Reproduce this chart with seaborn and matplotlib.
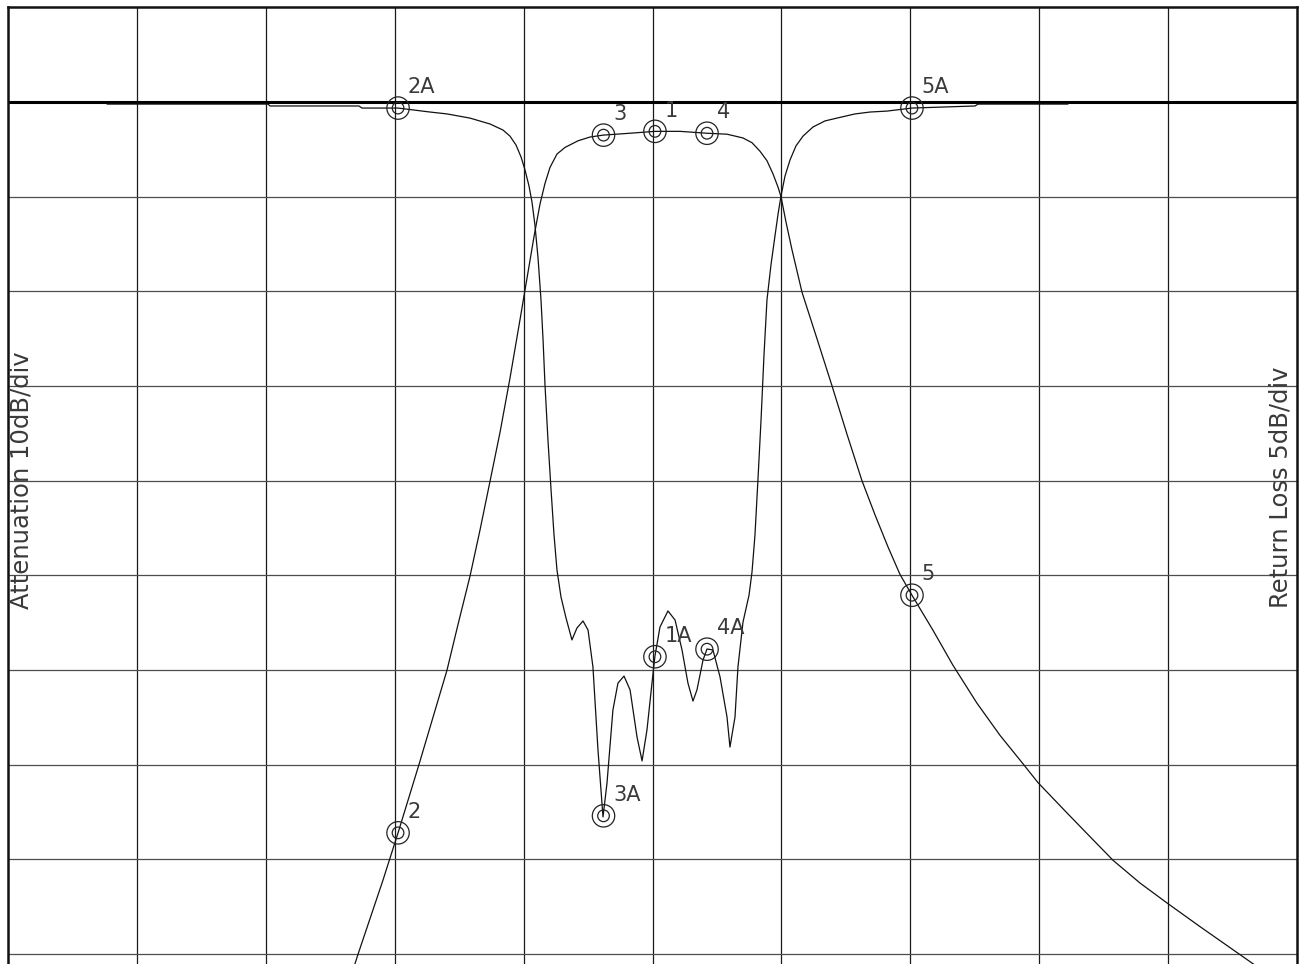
import numpy as np
import matplotlib
matplotlib.use("Agg")
import matplotlib.pyplot as plt
import seaborn as sns

# frequency in grid divisions (10 divisions across), levels in dB
att_freq = [2.664, 2.716, 2.909, 3.026, 3.188, 3.406, 3.491, 3.584, 3.662, 3.739,
            3.817, 3.894, 3.972, 4.034, 4.081, 4.127, 4.166, 4.205, 4.259, 4.321,
            4.422, 4.515, 4.616, 4.825, 5.019, 5.213, 5.423, 5.578, 5.702, 5.772,
            5.834, 5.888, 5.935, 5.974, 5.997, 6.036, 6.082, 6.160, 6.276, 6.393,
            6.509, 6.625, 6.726, 6.827, 6.920, 7.013, 7.176, 7.331, 7.517, 7.696,
            7.874, 7.991, 8.216, 8.394, 8.573, 8.782, 8.991, 9.247, 9.635, 9.729]
att_db = [-92.2, -90.0, -82.2, -77.2, -70.0, -60.0, -55.2, -50.1, -45.2, -40.1,
          -34.9, -29.2, -23.0, -18.0, -14.2, -10.8, -8.6, -6.9, -5.5, -4.8,
          -4.1, -3.7, -3.5, -3.3, -3.1, -3.1, -3.3, -3.4, -3.8, -4.3,
          -5.2, -6.2, -7.6, -9.0, -10.0, -12.7, -15.6, -20.1, -25.0, -30.0,
          -35.1, -40.0, -43.6, -47.0, -49.9, -52.1, -55.8, -59.5, -63.5, -66.9,
          -69.9, -71.9, -75.1, -77.6, -80.1, -82.5, -84.6, -87.1, -90.8, -91.7]

rl_freq = [0.768, 2.017, 2.033, 2.723, 2.746, 3.026, 3.274, 3.406, 3.584, 3.739,
           3.840, 3.894, 3.941, 3.980, 4.011, 4.042, 4.065, 4.088, 4.112, 4.135,
           4.151, 4.166, 4.189, 4.213, 4.236, 4.259, 4.290, 4.329, 4.375, 4.414,
           4.461, 4.500, 4.538, 4.577, 4.616, 4.647, 4.693, 4.732, 4.779, 4.826,
           4.880, 4.919, 4.957, 4.996, 5.019, 5.058, 5.120, 5.175, 5.229, 5.275,
           5.314, 5.345, 5.392, 5.423, 5.469, 5.524, 5.578, 5.601, 5.640, 5.663,
           5.702, 5.749, 5.772, 5.795, 5.818, 5.842, 5.865, 5.888, 5.919, 5.950,
           5.974, 5.997, 6.028, 6.067, 6.113, 6.168, 6.245, 6.338, 6.431, 6.571,
           6.687, 6.819, 7.013, 7.502, 7.526, 8.223]
rl_db = [-0.11, -0.11, -0.21, -0.21, -0.32, -0.32, -0.53, -0.63, -0.85, -1.16,
         -1.48, -1.80, -2.27, -2.90, -3.59, -4.44, -5.28, -6.50, -8.24, -10.46,
         -12.57, -14.95, -17.85, -20.49, -22.87, -24.72, -26.14, -27.25, -28.41, -27.78,
         -27.41, -27.89, -29.84, -34.22, -37.76, -35.97, -32.11, -30.69, -30.32, -31.05,
         -33.54, -34.80, -33.17, -30.69, -29.26, -27.73, -26.88, -27.36, -28.94, -30.69,
         -31.64, -31.05, -29.47, -28.89, -28.94, -30.37, -32.48, -34.07, -32.48, -29.84,
         -27.47, -26.04, -24.82, -22.87, -19.96, -16.80, -13.36, -10.46, -8.61, -7.08,
         -5.92, -4.96, -3.91, -3.06, -2.32, -1.80, -1.32, -1.00, -0.85, -0.63,
         -0.53, -0.48, -0.32, -0.21, -0.11, -0.11]

# markers (same frequencies on both traces)
att_marker_names = ["2", "3", "1", "4", "5"]
att_marker_freq = [3.026, 4.620, 5.019, 5.423, 7.013]
att_marker_db = [-77.2, -3.5, -3.1, -3.3, -52.1]

rl_marker_names = ["2A", "3A", "1A", "4A", "5A"]
rl_marker_freq = [3.026, 4.620, 5.019, 5.423, 7.013]
rl_marker_db = [-0.32, -37.7, -29.3, -28.9, -0.32]

sns.set_style("white")
plt.rcParams["font.family"] = ["DejaVu Sans"]

W, H = 1301, 964
fig = plt.figure(figsize=(W / 100, H / 100), dpi=100)

# frame: left 8px, right 1297px, top (+10 dB line) at ~7px, runs off the bottom
px_div_y = 94.67
top_px = 102 - px_div_y
ax = fig.add_axes([8 / W, 0, (1297 - 8) / W, 1 - top_px / H])
y_bottom = -(H - 102) / px_div_y * 10
ax.set_xlim(0, 10)
ax.set_ylim(y_bottom, 10)

ax2 = ax.twinx()
ax2.set_ylim(y_bottom / 2, 5)

for a in (ax, ax2):
    a.set_xticks([])
    a.set_yticks([])
    for s in a.spines.values():
        s.set_visible(False)

for s in ("left", "right", "top"):
    ax.spines[s].set_visible(True)
    ax.spines[s].set_linewidth(1.8)
    ax.spines[s].set_color("#111111")

# grid
for i in range(1, 10):
    ax.axvline(i, color="#1a1a1a", lw=0.9, zorder=1)
for v in range(-90, 10, 10):
    ax.axhline(v, color="#4d4d4d", lw=0.9, zorder=1)
ax.axhline(0, color="black", lw=2.2, zorder=2)

sns.lineplot(x=att_freq, y=att_db, ax=ax, color="#111111", lw=0.9,
             estimator=None, sort=False, zorder=3)
sns.lineplot(x=rl_freq, y=rl_db, ax=ax2, color="#111111", lw=0.9,
             estimator=None, sort=False, zorder=3)


def draw_markers(a, names, xs, ys):
    a.scatter(xs, ys, s=260, facecolors="none", edgecolors="#222222",
              linewidths=0.9, zorder=4)
    a.scatter(xs, ys, s=70, facecolors="none", edgecolors="#222222",
              linewidths=0.9, zorder=4)
    for n, x, y in zip(names, xs, ys):
        a.annotate(n, (x, y), xytext=(7, 15), textcoords="offset points",
                   ha="left", va="center", fontsize=15, color="#3a3a3a")


draw_markers(ax, att_marker_names, att_marker_freq, att_marker_db)
draw_markers(ax2, rl_marker_names, rl_marker_freq, rl_marker_db)

fig.text(22 / W, 1 - 480 / H, "Attenuation 10dB/div", rotation=90,
         ha="center", va="center", fontsize=17.5, color="#3a3a3a")
fig.text(1280 / W, 1 - 487 / H, "Return Loss 5dB/div", rotation=90,
         ha="center", va="center", fontsize=17.5, color="#3a3a3a")

fig.savefig("out.png", dpi=100, facecolor="white")
